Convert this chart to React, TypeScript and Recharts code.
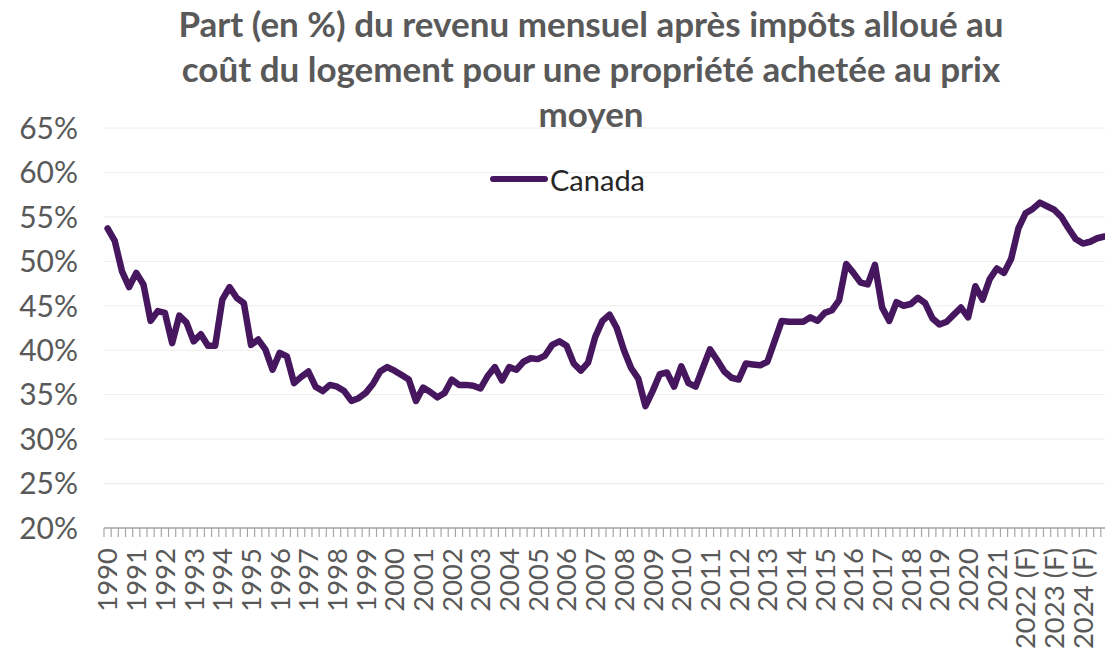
import React from 'react';
import { LineChart, Line, XAxis, YAxis, CartesianGrid } from 'recharts';

const years: string[] = [
  '1990', '1991', '1992', '1993', '1994', '1995', '1996', '1997', '1998', '1999',
  '2000', '2001', '2002', '2003', '2004', '2005', '2006', '2007', '2008', '2009',
  '2010', '2011', '2012', '2013', '2014', '2015', '2016', '2017', '2018', '2019',
  '2020', '2021', '2022 (F)', '2023 (F)', '2024 (F)',
];

const quarters: string[] = ['T1', 'T2', 'T3', 'T4'];

const canadaValues: number[] = [
  53.7, 52.3, 48.9, 47.1, 48.7, 47.4, 43.3, 44.4, 44.2, 40.8,
  43.9, 43.1, 41.0, 41.8, 40.5, 40.5, 45.7, 47.1, 45.9, 45.3,
  40.6, 41.2, 40.1, 37.8, 39.7, 39.3, 36.3, 37.0, 37.6, 35.9,
  35.4, 36.1, 35.9, 35.4, 34.3, 34.6, 35.2, 36.2, 37.6, 38.1,
  37.7, 37.2, 36.7, 34.3, 35.8, 35.3, 34.7, 35.2, 36.7, 36.1,
  36.1, 36.0, 35.7, 37.1, 38.1, 36.6, 38.1, 37.8, 38.7, 39.1,
  39.0, 39.4, 40.6, 41.0, 40.5, 38.5, 37.7, 38.6, 41.5, 43.3,
  44.0, 42.5, 40.0, 38.0, 36.8, 33.7, 35.4, 37.3, 37.5, 35.9,
  38.2, 36.3, 35.9, 38.0, 40.1, 38.9, 37.6, 36.9, 36.7, 38.5,
  38.4, 38.3, 38.7, 41.0, 43.3, 43.2, 43.2, 43.2, 43.7, 43.3,
  44.2, 44.5, 45.6, 49.7, 48.7, 47.6, 47.4, 49.6, 44.8, 43.3,
  45.4, 45.0, 45.2, 45.9, 45.3, 43.6, 42.9, 43.2, 44.0, 44.8,
  43.7, 47.2, 45.7, 48.0, 49.2, 48.7, 50.3, 53.7, 55.4, 55.9,
  56.6, 56.2, 55.8, 55.0, 53.7, 52.5, 52.0, 52.2, 52.6, 52.8,
];

const yTicks: number[] = [20, 25, 30, 35, 40, 45, 50, 55, 60, 65];

const seriesName = 'Canada';
const titleLines: string[] = [
  'Part (en %) du revenu mensuel après impôts alloué au',
  'coût du logement pour une propriété achetée au prix',
  'moyen',
];

const data = canadaValues.map((v, i) => ({
  idx: i,
  period: `${years[Math.floor(i / 4)]} ${quarters[i % 4]}`,
  value: v,
}));

const boundaryTicks = Array.from({ length: canadaValues.length + 1 }, (_, k) => k - 0.5);
const yearTicks = years.map((_, k) => k * 4);
const xTicks = [...boundaryTicks, ...yearTicks].sort((a, b) => a - b);

const FONT = "Lato, 'Open Sans', 'DejaVu Sans', sans-serif";
const PURPLE = '#46175e';
const GRAY_TEXT = '#595959';

const XTick = (props: any) => {
  const { x, y, payload } = props;
  const v = payload.value as number;
  if (!Number.isInteger(v)) {
    return <line x1={x} x2={x} y1={y} y2={y + 9} stroke="#a6a6a6" strokeWidth={1.2} />;
  }
  const label = years[v / 4];
  const ty = y + 20;
  return (
    <text
      x={x}
      y={ty}
      transform={`rotate(-90, ${x}, ${ty})`}
      textAnchor="end"
      dy="0.36em"
      fontSize={27.5}
      fontFamily={FONT}
      fill={GRAY_TEXT}
    >
      {label}
    </text>
  );
};

const YTick = (props: any) => {
  const { y, payload } = props;
  return (
    <text
      x={78}
      y={y}
      textAnchor="end"
      dy="0.36em"
      fontSize={30}
      fontFamily={FONT}
      fill={GRAY_TEXT}
    >
      {`${payload.value}%`}
    </text>
  );
};

export default function App() {
  return (
    <div
      style={{
        position: 'absolute',
        left: 0,
        top: 0,
        width: 1105,
        height: 651,
        overflow: 'hidden',
        background: '#ffffff',
        fontFamily: FONT,
      }}
    >
      <LineChart
        width={1108}
        height={651}
        data={data}
        margin={{ top: 128, right: 0, bottom: 0, left: 0 }}
      >
        <CartesianGrid horizontal vertical={false} stroke="#ececec" strokeWidth={1} />
        <XAxis
          dataKey="idx"
          type="number"
          domain={[-0.5, canadaValues.length - 0.5]}
          ticks={xTicks}
          interval={0}
          tick={<XTick />}
          tickLine={false}
          tickSize={0}
          tickMargin={0}
          axisLine={{ stroke: '#a6a6a6', strokeWidth: 1.5 }}
          height={123}
          allowDataOverflow
        />
        <YAxis
          type="number"
          domain={[20, 65]}
          ticks={yTicks}
          interval={0}
          tick={<YTick />}
          tickLine={false}
          axisLine={false}
          width={104}
        />
        <Line
          type="linear"
          dataKey="value"
          name={seriesName}
          stroke={PURPLE}
          strokeWidth={6.5}
          strokeLinejoin="round"
          strokeLinecap="round"
          dot={false}
          activeDot={false}
          isAnimationActive={false}
        />
      </LineChart>

      <div
        style={{
          position: 'absolute',
          left: 91,
          top: 1,
          width: 1000,
          textAlign: 'center',
          fontSize: 35,
          lineHeight: '45px',
          fontWeight: 700,
          color: GRAY_TEXT,
        }}
      >
        {titleLines.map((t, i) => (
          <div key={i}>{t}</div>
        ))}
      </div>

      <div
        style={{
          position: 'absolute',
          left: 490,
          top: 161,
          height: 36,
          display: 'flex',
          alignItems: 'center',
        }}
      >
        <span
          style={{
            display: 'inline-block',
            width: 58,
            height: 6.5,
            borderRadius: 3.25,
            background: PURPLE,
          }}
        />
        <span style={{ fontSize: 29, color: '#262626', marginLeft: 2 }}>{seriesName}</span>
      </div>
    </div>
  );
}
